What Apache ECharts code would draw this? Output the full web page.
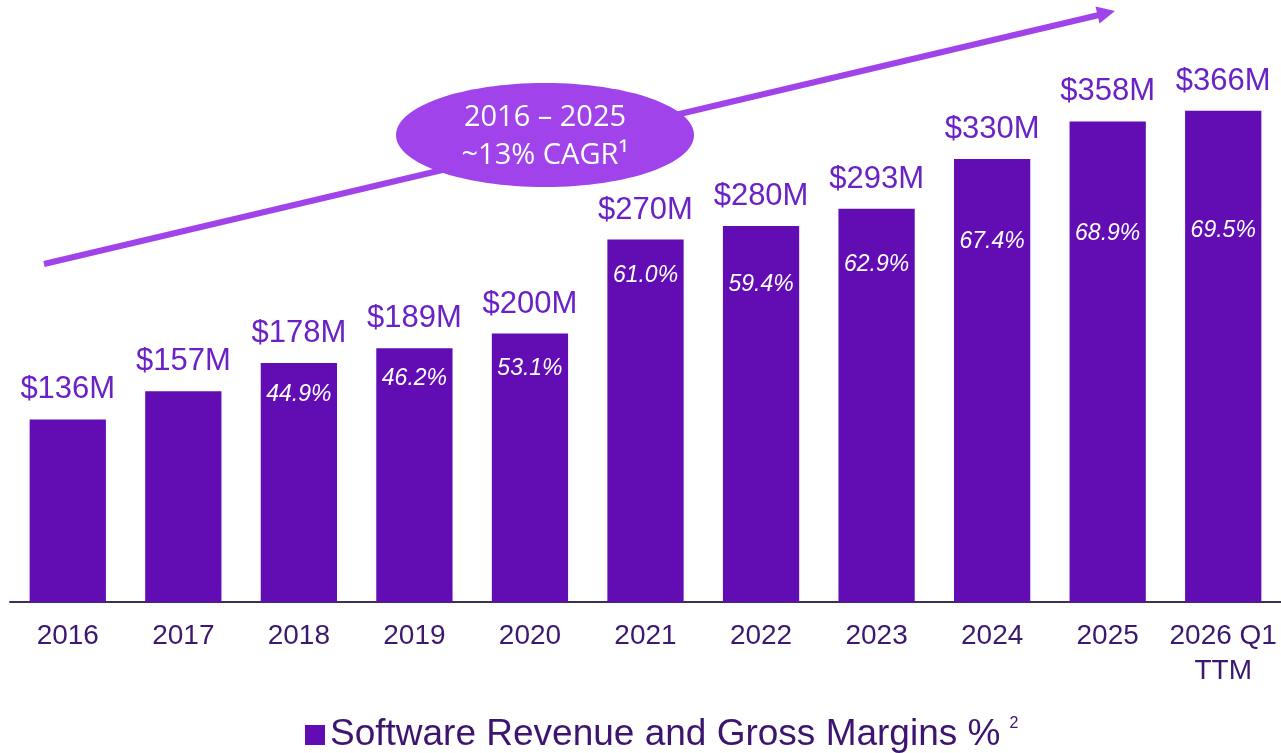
<!DOCTYPE html>
<html>
<head>
<meta charset="utf-8">
<title>Software Revenue and Gross Margins</title>
<script src="https://cdn.jsdelivr.net/npm/echarts@6/dist/echarts.min.js"></script>
<style>
  html, body { margin: 0; padding: 0; background: #fff; }
  #main { width: 1281px; height: 753px; }
</style>
</head>
<body>
<div id="main"></div>
<script>
var years = ['2016', '2017', '2018', '2019', '2020', '2021', '2022', '2023', '2024', '2025', '2026 Q1\nTTM'];
var revenue = [136, 157, 178, 189, 200, 270, 280, 293, 330, 358, 366];
var margins = [null, null, 44.9, 46.2, 53.1, 61.0, 59.4, 62.9, 67.4, 68.9, 69.5];
var seriesName = 'Software Revenue and Gross Margins %';

// how far down inside each bar the margin label sits (px), as on the slide
var marginDrop = [0, 0, 20, 19, 24, 25, 47, 44, 71, 101, 108];

var font = '"Liberation Sans", Arial, sans-serif';
var chart = echarts.init(document.getElementById('main'));

var option = {
    backgroundColor: '#ffffff',
    animation: false,
    grid: { left: 10, width: 1276, top: 65, bottom: 151 },
    legend: {
        data: [seriesName],
        top: 711,
        left: 300,
        icon: 'rect',
        itemWidth: 20,
        itemHeight: 20,
        itemGap: 8,
        formatter: function (name) {
            return '{a|' + name + '}{b|2}';
        },
        textStyle: {
            rich: {
                a: { fontFamily: font, fontSize: 37, color: '#3d1470' },
                b: { fontFamily: font, fontSize: 16, color: '#3d1470', verticalAlign: 'top', padding: [0, 0, 22, 9] }
            }
        }
    },
    xAxis: {
        type: 'category',
        data: years,
        axisLine: { lineStyle: { color: '#3b2f5e', width: 2 } },
        axisTick: { show: false },
        axisLabel: {
            interval: 0,
            margin: 17,
            fontFamily: font,
            fontSize: 28,
            lineHeight: 35,
            color: '#3c1870'
        }
    },
    yAxis: {
        type: 'value',
        min: 0,
        max: 400,
        show: false,
        splitLine: { show: false }
    },
    series: [{
        name: seriesName,
        type: 'bar',
        data: revenue,
        barWidth: '66%',
        itemStyle: { color: '#620cb4' },
        label: {
            show: true,
            position: 'top',
            distance: 14,
            fontFamily: font,
            fontSize: 31,
            color: '#6a22c6',
            formatter: function (p) { return '$' + p.value + 'M'; }
        }
    }, {
        name: 'margin',
        type: 'bar',
        barGap: '-100%',
        barWidth: '66%',
        silent: true,
        itemStyle: { color: 'rgba(0,0,0,0)' },
        data: revenue.map(function (v, i) {
            return {
                value: v,
                label: {
                    show: margins[i] !== null,
                    distance: marginDrop[i]
                }
            };
        }),
        label: {
            position: 'insideTop',
            fontFamily: font,
            fontSize: 23,
            fontStyle: 'italic',
            color: '#ffffff',
            formatter: function (p) {
                var m = margins[p.dataIndex];
                return m === null ? '' : m.toFixed(1) + '%';
            }
        }
    }],
    graphic: [{
        type: 'line',
        shape: { x1: 44, y1: 264, x2: 1099, y2: 15 },
        style: { stroke: '#a044ea', lineWidth: 6 }
    }, {
        type: 'polygon',
        shape: { points: [[1115, 11], [1099.5, 23.5], [1095.5, 6.5]] },
        style: { fill: '#a044ea' }
    }, {
        type: 'ellipse',
        shape: { cx: 545, cy: 135, rx: 149, ry: 52 },
        style: { fill: '#a143ea' }
    }, {
        type: 'text',
        x: 545,
        y: 118,
        style: {
            text: '2016 – 2025',
            fontFamily: '"Open Sans", sans-serif',
            fontSize: 29,
            fill: '#ffffff',
            align: 'center',
            verticalAlign: 'middle'
        }
    }, {
        type: 'text',
        x: 545,
        y: 156,
        style: {
            text: '~13% CAGR¹',
            fontFamily: '"Open Sans", sans-serif',
            fontSize: 29,
            fill: '#ffffff',
            align: 'center',
            verticalAlign: 'middle'
        }
    }]
};

chart.setOption(option);
</script>
</body>
</html>
